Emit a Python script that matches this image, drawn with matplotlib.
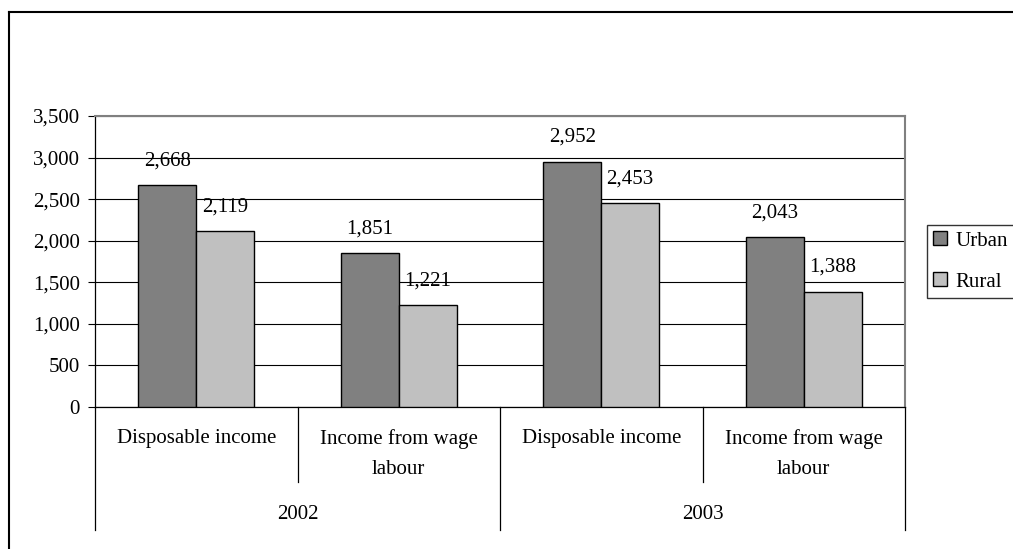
import numpy as np
import matplotlib
matplotlib.use("Agg")
import matplotlib.pyplot as plt
from matplotlib.lines import Line2D
from matplotlib.patches import Patch
from matplotlib.ticker import FuncFormatter

plt.rcParams['font.family'] = ['Liberation Serif', 'DejaVu Serif']
plt.rcParams['font.size'] = 15

# data
years = ["2002", "2003"]
subcats = ["Disposable income", "Income from wage\nlabour",
           "Disposable income", "Income from wage\nlabour"]
urban = [2668, 1851, 2952, 2043]
rural = [2119, 1221, 2453, 1388]
yticks = [0, 500, 1000, 1500, 2000, 2500, 3000, 3500]

fig = plt.figure(figsize=(10.13, 5.49), dpi=100)
ax = fig.add_axes([95 / 1013, 1 - 407 / 549, 810 / 1013, 291 / 549])

x = np.arange(len(subcats))
w = 0.286
b1 = ax.bar(x - w / 2, urban, w, color="#808080", edgecolor="black", linewidth=1, zorder=3)
b2 = ax.bar(x + w / 2, rural, w, color="#C0C0C0", edgecolor="black", linewidth=1, zorder=3)
fmt = lambda v: f"{v:,.0f}"
ax.bar_label(b1, labels=[fmt(v) for v in urban], padding=10.5, fontsize=15)
ax.bar_label(b2, labels=[fmt(v) for v in rural], padding=10.5, fontsize=15)

ax.set_xlim(-0.5, len(subcats) - 0.5)
ax.set_ylim(0, 3500)
ax.set_yticks(yticks)
ax.yaxis.set_major_formatter(FuncFormatter(lambda v, p: f"{v:,.0f}"))
ax.tick_params(axis="y", length=5, width=0.8, pad=6, labelsize=15)
ax.set_xticks([])
ax.grid(axis="y", color="black", linewidth=0.8, zorder=0)
ax.spines["top"].set_color("#808080")
ax.spines["right"].set_color("#808080")
ax.spines["top"].set_linewidth(1.5)
ax.spines["right"].set_linewidth(1.5)
ax.spines["left"].set_linewidth(0.9)
ax.spines["bottom"].set_linewidth(0.9)

# multi-level category axis
tr = ax.get_xaxis_transform()
for i, lab in enumerate(subcats):
    ax.text(i, -0.075, lab, transform=tr, ha="center", va="top",
            linespacing=1.8, fontsize=15)
for xs in [0.5, 2.5]:
    ax.plot([xs, xs], [0, -0.258], transform=tr, color="black", lw=0.9, clip_on=False)
for xs in [-0.5, 1.5, 3.5]:
    ax.plot([xs, xs], [0, -0.423], transform=tr, color="black", lw=0.9, clip_on=False)
for j, yr in enumerate(years):
    ax.text(2 * j + 0.5, -0.368, yr, transform=tr, ha="center", va="center", fontsize=15)

# legend
handles = [Patch(facecolor="#808080", edgecolor="black", label="Urban"),
           Patch(facecolor="#C0C0C0", edgecolor="black", label="Rural")]
leg = fig.legend(handles=handles, loc="upper left",
                 bbox_to_anchor=(927 / 1013, 1 - 225 / 549),
                 frameon=True, fancybox=False, edgecolor="black",
                 handlelength=0.65, handleheight=0.65, handletextpad=0.4,
                 borderpad=0.3, labelspacing=1.05, borderaxespad=0, fontsize=15)
leg.get_frame().set_linewidth(1.0)

# outer chart frame (only left and top visible)
fig.add_artist(Line2D([9 / 1013, 9 / 1013], [0, 1 - 12 / 549], color="black", lw=1.5,
                      transform=fig.transFigure))
fig.add_artist(Line2D([9 / 1013, 1], [1 - 12 / 549, 1 - 12 / 549], color="black", lw=1.5,
                      transform=fig.transFigure))

fig.savefig("out.png", dpi=100)
